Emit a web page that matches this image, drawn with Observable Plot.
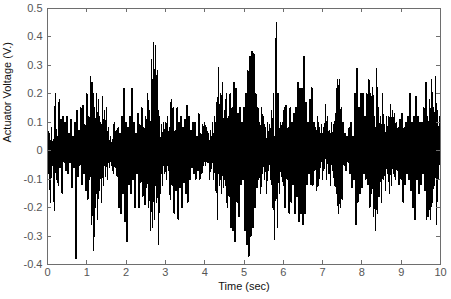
<!DOCTYPE html>
<html>
<head>
<meta charset="utf-8">
<script src="https://cdn.jsdelivr.net/npm/d3@7"></script>
<script src="https://cdn.jsdelivr.net/npm/@observablehq/plot@0.6"></script>
<style>
  html, body { margin: 0; padding: 0; background: #fff; }
</style>
</head>
<body>
<div id="chart"></div>
<script>
// Sampling interval of the read-off signal (seconds)
const sampleInterval = 0.025;

// Actuator voltage (V), one value per 0.025 s from t = 0 to t = 10
const voltage = [
  // 0.0 - 0.5 s
  0.13, -0.08, 0.06, -0.18, 0.08, -0.05, 0.04, -0.21, 0.20, -0.10, 0.05, -0.12, 0.18, -0.06, 0.11, -0.15, 0.12, -0.04, 0.10, -0.07,
  // 0.5 - 1.0 s
  0.12, -0.08, 0.06, -0.04, 0.11, -0.13, 0.05, -0.06, 0.10, -0.38, 0.14, -0.09, 0.07, -0.05, 0.15, -0.12, 0.16, -0.08, 0.09, -0.14,
  // 1.0 - 1.5 s
  0.20, -0.17, 0.12, -0.10, 0.26, -0.26, 0.24, -0.35, 0.15, -0.20, 0.20, -0.24, 0.18, -0.14, 0.10, -0.18, 0.19, -0.12, 0.14, -0.09,
  // 1.5 - 2.0 s
  0.15, -0.10, 0.08, -0.06, 0.05, -0.05, 0.04, -0.08, 0.10, -0.06, 0.07, -0.09, 0.08, -0.20, 0.06, -0.22, 0.12, -0.15, 0.22, -0.25,
  // 2.0 - 2.5 s
  0.10, -0.32, 0.08, -0.12, 0.12, -0.15, 0.22, -0.10, 0.10, -0.20, 0.06, -0.08, 0.13, -0.20, 0.09, -0.11, 0.15, -0.16, 0.08, -0.19,
  // 2.5 - 3.0 s
  0.12, -0.13, 0.20, -0.20, 0.14, -0.28, 0.32, -0.27, 0.38, -0.24, 0.37, -0.18, 0.28, -0.33, 0.12, -0.15, 0.09, -0.12, 0.10, -0.08,
  // 3.0 - 3.5 s
  0.10, -0.10, 0.12, -0.07, 0.08, -0.17, 0.18, -0.12, 0.15, -0.22, 0.07, -0.14, 0.15, -0.24, 0.10, -0.13, 0.12, -0.20, 0.08, -0.11,
  // 3.5 - 4.0 s
  0.11, -0.15, 0.16, -0.18, 0.12, -0.10, 0.07, -0.06, 0.10, -0.08, 0.10, -0.10, 0.05, -0.07, 0.13, -0.10, 0.06, -0.08, 0.09, -0.05,
  // 4.0 - 4.5 s
  0.10, -0.05, 0.08, -0.04, 0.06, -0.10, 0.07, -0.06, 0.10, -0.10, 0.12, -0.14, 0.17, -0.24, 0.29, -0.12, 0.20, -0.15, 0.24, -0.13,
  // 4.5 - 5.0 s
  0.14, -0.12, 0.20, -0.20, 0.12, -0.16, 0.20, -0.27, 0.15, -0.28, 0.24, -0.32, 0.22, -0.18, 0.13, -0.23, 0.15, -0.12, 0.10, -0.10,
  // 5.0 - 5.5 s
  0.15, -0.28, 0.20, -0.33, 0.28, -0.37, 0.33, -0.30, 0.35, -0.27, 0.34, -0.20, 0.20, -0.13, 0.15, -0.10, 0.10, -0.15, 0.15, -0.08,
  // 5.5 - 6.0 s
  0.12, -0.10, 0.08, -0.15, 0.10, -0.07, 0.09, -0.10, 0.14, -0.20, 0.20, -0.31, 0.12, 0.45, -0.27, 0.20, -0.15, 0.10, -0.09, 0.10,
  // 6.0 - 6.5 s
  -0.12, 0.15, -0.20, 0.16, -0.10, 0.08, -0.22, 0.15, -0.18, 0.10, -0.12, 0.13, -0.22, 0.15, -0.16, 0.24, -0.25, 0.22, -0.22, 0.22,
  // 6.5 - 7.0 s
  -0.26, 0.33, -0.22, 0.17, -0.12, 0.10, -0.08, 0.18, -0.12, 0.22, -0.12, 0.10, -0.07, 0.08, -0.14, 0.12, -0.12, 0.08, -0.06, 0.09,
  // 7.0 - 7.5 s
  -0.10, 0.08, -0.06, 0.16, -0.10, 0.12, -0.08, 0.07, -0.12, 0.10, -0.07, 0.09, -0.12, 0.13, -0.15, 0.25, -0.22, 0.25, -0.20, 0.15,
  // 7.5 - 8.0 s
  -0.17, 0.10, -0.05, 0.06, -0.07, 0.05, -0.04, 0.08, -0.08, 0.10, -0.13, 0.05, -0.10, 0.20, -0.26, 0.29, -0.18, 0.15, -0.15, 0.20,
  // 8.0 - 8.5 s
  -0.13, 0.20, -0.08, 0.12, -0.10, 0.20, -0.12, 0.25, -0.20, 0.20, -0.15, 0.22, -0.23, 0.12, -0.28, 0.29, -0.22, 0.15, -0.16, 0.12,
  // 8.5 - 9.0 s
  -0.18, 0.20, -0.10, 0.09, -0.14, 0.12, -0.08, 0.12, -0.15, 0.16, -0.12, 0.14, -0.08, 0.13, -0.10, 0.10, -0.07, 0.08, -0.12, 0.11,
  // 9.0 - 9.5 s
  -0.10, 0.13, -0.18, 0.08, -0.12, 0.10, -0.08, 0.12, -0.10, 0.20, -0.14, 0.10, -0.20, 0.12, -0.24, 0.19, -0.10, 0.12, -0.15, 0.10,
  // 9.5 - 10.0 s
  -0.12, 0.10, -0.08, 0.15, -0.14, 0.24, -0.24, 0.12, -0.23, 0.18, -0.24, 0.25, -0.18, 0.15, -0.12, 0.26, -0.26, 0.14, -0.10, 0.12,
  -0.05
];

const xTicks = [0, 1, 2, 3, 4, 5, 6, 7, 8, 9, 10];
const yTicks = [-0.4, -0.3, -0.2, -0.1, 0, 0.1, 0.2, 0.3, 0.4, 0.5];
const xDomain = [0, 10];
const yDomain = [-0.4, 0.5];
const xLabel = "Time (sec)";
const yLabel = "Actuator Voltage (V.)";

const times = voltage.map((_, i) => i * sampleInterval);
const signal = voltage.map((v, i) => ({t: times[i], v}));

const fmtY = d => (d === 0 ? "0" : d.toFixed(1));
const fmtX = d => String(d);

const W = 451, H = 299;
const mL = 47, mR = 11, mT = 8, mB = 35;
const innerW = W - mL - mR, innerH = H - mT - mB;
const tickLen = 4;
// tick length expressed in data units of each scale
const tX = (xDomain[1] - xDomain[0]) * tickLen / innerW;
const tY = (yDomain[1] - yDomain[0]) * tickLen / innerH;
const gray = "#6e6e6e";

const chart = Plot.plot({
  width: W,
  height: H,
  marginLeft: mL,
  marginRight: mR,
  marginTop: mT,
  marginBottom: mB,
  style: {fontFamily: "'Liberation Sans', Arial, sans-serif", fontSize: "11px", background: "#fff", color: "#000"},
  x: {domain: xDomain},
  y: {domain: yDomain},
  marks: [
    Plot.line(signal, {x: "t", y: "v", stroke: "#000", strokeWidth: 1.5, shapeRendering: "crispEdges"}),
    Plot.frame({stroke: gray, shapeRendering: "crispEdges"}),
    // inward ticks on all four sides
    Plot.ruleX(xTicks, {x: d => d, y1: yDomain[0], y2: yDomain[0] + tY, stroke: gray, shapeRendering: "crispEdges"}),
    Plot.ruleX(xTicks, {x: d => d, y1: yDomain[1] - tY, y2: yDomain[1], stroke: gray, shapeRendering: "crispEdges"}),
    Plot.ruleY(yTicks, {y: d => d, x1: xDomain[0], x2: xDomain[0] + tX, stroke: gray, shapeRendering: "crispEdges"}),
    Plot.ruleY(yTicks, {y: d => d, x1: xDomain[1] - tX, x2: xDomain[1], stroke: gray, shapeRendering: "crispEdges"}),
    Plot.axisX({ticks: xTicks, tickFormat: fmtX, tickSize: 0, tickPadding: 4, label: null, fill: "#555"}),
    Plot.axisY({ticks: yTicks, tickFormat: fmtY, tickSize: 0, tickPadding: 5, label: null, fill: "#555"}),
    Plot.text([xLabel], {frameAnchor: "bottom", dy: 22, text: d => d, lineAnchor: "middle", fill: "#111"}),
    Plot.text([yLabel], {frameAnchor: "left", dx: -40, dy: 6, rotate: -90, text: d => d, lineAnchor: "middle", fill: "#111"})
  ]
});
document.getElementById("chart").appendChild(chart);
</script>
</body>
</html>
